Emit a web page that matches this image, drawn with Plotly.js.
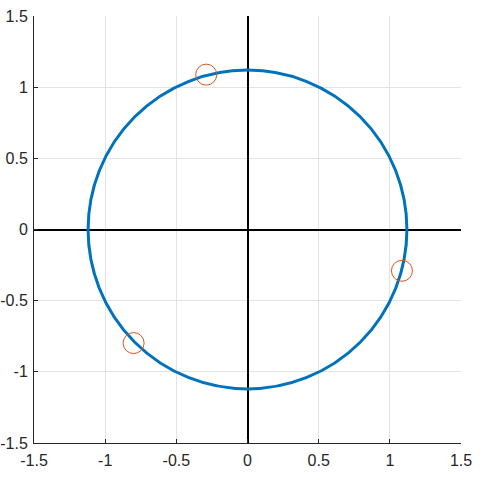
<!DOCTYPE html>
<html>
<head>
<meta charset="utf-8">
<script src="https://cdn.plot.ly/plotly-3.0.1.min.js"></script>
<style>html,body{margin:0;padding:0;background:#fff;}#chart{width:485px;height:482px;}</style>
</head>
<body>
<div id="chart"></div>
<script>
// Data
var circleRadius = 1.12;
var pointsX = [-0.29, 1.085, -0.80];
var pointsY = [1.088, -0.29, -0.798];
var tickVals = [-1.5, -1, -0.5, 0, 0.5, 1, 1.5];
var tickText = ['-1.5', '-1', '-0.5', '0', '0.5', '1', '1.5'];

var traces = [{
  type: 'scatter',
  mode: 'markers',
  x: pointsX,
  y: pointsY,
  marker: {symbol: 'circle-open', size: 21, color: '#D95319', line: {width: 1, color: '#D95319'}},
  hoverinfo: 'x+y',
  showlegend: false
}];

var axisCommon = {
  range: [-1.5, 1.5],
  tickvals: tickVals,
  ticktext: tickText,
  showgrid: true,
  gridcolor: '#e3e3e3',
  gridwidth: 1,
  zeroline: true,
  zerolinecolor: '#000000',
  zerolinewidth: 2,
  showline: true,
  linecolor: '#262626',
  linewidth: 1,
  mirror: false,
  ticks: 'inside',
  ticklen: 4,
  tickcolor: '#262626',
  tickfont: {family: 'Liberation Sans, Arial, sans-serif', size: 16, color: '#262626'},
  fixedrange: true
};

var layout = {
  width: 485,
  height: 482,
  margin: {l: 34, r: 24, t: 16, b: 39, pad: 0},
  paper_bgcolor: '#ffffff',
  plot_bgcolor: '#ffffff',
  xaxis: Object.assign({}, axisCommon, {ticklabelstandoff: 3}),
  yaxis: Object.assign({}, axisCommon, {ticklabelstandoff: 2}),
  shapes: [{
    type: 'circle',
    xref: 'x', yref: 'y',
    x0: -circleRadius, x1: circleRadius,
    y0: -circleRadius, y1: circleRadius,
    line: {color: '#0072BD', width: 3},
    layer: 'between'
  }],
  showlegend: false
};

Plotly.newPlot('chart', traces, layout, {displayModeBar: false, staticPlot: true});
</script>
</body>
</html>
